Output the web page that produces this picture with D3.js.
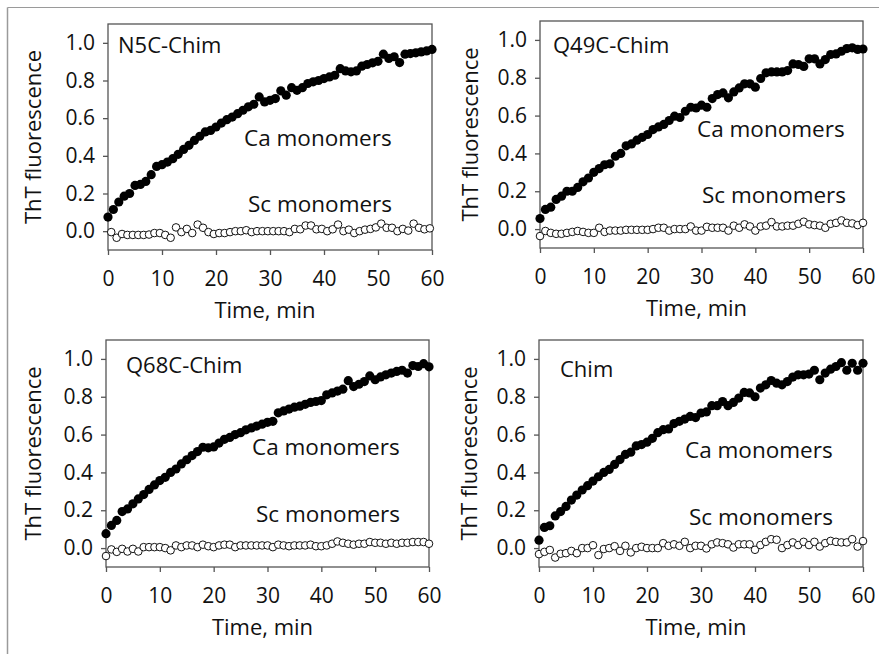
<!DOCTYPE html>
<html>
<head>
<meta charset="utf-8">
<script src="https://cdn.jsdelivr.net/npm/d3@7"></script>
<style>
  body { margin: 0; background: #fff; }
  text { font-family: "Open Sans", sans-serif; fill: #111; }
</style>
</head>
<body>
<svg width="879" height="654"></svg>
<script>
// time points (min)
var minutes = [0,1,2,3,4,5,6,7,8,9,10,11,12,13,14,15,16,17,18,19,20,
  21,22,23,24,25,26,27,28,29,30,31,32,33,34,35,36,37,38,39,40,
  41,42,43,44,45,46,47,48,49,50,51,52,53,54,55,56,57,58,59,60];
// N5C Sc readings were taken a bit later
var minutesHalf = [0.6,1.6,2.6,3.6,4.6,5.6,6.6,7.6,8.6,9.6,10.6,11.6,12.6,13.6,14.6,15.6,
  16.6,17.6,18.6,19.6,20.6,21.6,22.6,23.6,24.6,25.6,26.6,27.6,28.6,29.6,30.6,31.6,32.6,
  33.6,34.6,35.6,36.6,37.6,38.6,39.6,40.6,41.6,42.6,43.6,44.6,45.6,46.6,47.6,48.6,49.6,
  50.6,51.6,52.6,53.6,54.6,55.6,56.6,57.6,58.6,59.6];

var xTicks = [0, 10, 20, 30, 40, 50, 60];
var yTicks = [0, 0.2, 0.4, 0.6, 0.8, 1.0];

var n5cCa = [0.075,0.115,0.155,0.186,0.20,0.243,0.248,0.264,0.30,0.344,0.353,0.367,0.385,0.408,
  0.434,0.456,0.482,0.504,0.527,0.535,0.553,0.574,0.592,0.606,0.624,0.642,0.66,0.674,0.713,
  0.686,0.695,0.704,0.745,0.722,0.762,0.748,0.762,0.784,0.793,0.80,0.81,0.819,0.828,0.863,
  0.851,0.846,0.851,0.876,0.885,0.894,0.902,0.94,0.917,0.926,0.895,0.94,0.943,0.947,0.952,
  0.957,0.965];
var n5cSc = [-0.005,-0.035,-0.015,-0.02,-0.02,-0.02,-0.02,-0.018,-0.01,-0.01,-0.02,-0.035,
  0.02,-0.005,0.012,-0.01,0.035,0.018,-0.005,-0.015,-0.01,-0.01,-0.005,0.0,0.0,0.005,-0.005,
  0.0,0.0,0.0,0.0,0.0,0.0,-0.005,0.012,0.01,0.03,0.03,0.01,0.012,0.0,0.01,0.035,0.0,0.008,
  -0.01,0.0,0.008,0.012,0.02,0.04,0.018,0.018,0.0,0.012,0.003,0.04,0.018,0.01,0.015];

var q49cCa = [0.056,0.104,0.116,0.157,0.174,0.20,0.20,0.22,0.25,0.27,0.30,0.32,0.34,0.345,
  0.385,0.40,0.44,0.45,0.47,0.485,0.50,0.526,0.54,0.553,0.574,0.597,0.59,0.623,0.644,0.64,
  0.655,0.644,0.69,0.711,0.72,0.694,0.725,0.746,0.768,0.768,0.75,0.796,0.826,0.831,0.831,
  0.831,0.838,0.873,0.87,0.86,0.90,0.90,0.873,0.896,0.923,0.926,0.94,0.954,0.958,0.95,0.952];
var q49cSc = [-0.037,-0.01,-0.02,-0.025,-0.025,-0.02,-0.015,-0.01,-0.015,-0.02,-0.02,0.007,
  -0.015,-0.008,-0.008,-0.008,-0.004,-0.004,-0.004,-0.004,-0.004,0.0,0.007,0.007,-0.008,0.0,
  0.0,0.0,0.014,-0.008,-0.008,0.012,0.007,0.007,0.007,-0.008,0.018,0.007,0.025,0.014,-0.008,
  0.014,0.018,0.037,0.014,0.014,0.018,0.018,0.028,0.039,0.025,0.021,0.018,0.007,0.028,0.033,
  0.046,0.033,0.03,0.021,0.033];

var q68cCa = [0.076,0.12,0.146,0.193,0.207,0.234,0.26,0.283,0.31,0.334,0.357,0.374,0.40,0.418,
  0.445,0.467,0.489,0.51,0.533,0.53,0.535,0.555,0.575,0.585,0.60,0.61,0.625,0.635,0.645,
  0.655,0.665,0.67,0.715,0.725,0.735,0.745,0.75,0.76,0.77,0.775,0.78,0.81,0.82,0.83,0.84,
  0.885,0.854,0.866,0.88,0.91,0.89,0.905,0.916,0.925,0.934,0.94,0.925,0.965,0.96,0.975,0.958];
var q68cSc = [-0.042,-0.007,-0.02,-0.004,-0.018,-0.004,-0.018,0.005,0.005,0.005,0.005,0.0,
  -0.012,0.014,0.005,0.014,0.014,0.005,0.018,0.01,0.005,0.014,0.018,0.018,0.005,0.014,0.014,
  0.014,0.014,0.014,0.014,0.005,0.018,0.014,0.01,0.014,0.014,0.014,0.018,0.01,0.01,0.014,
  0.023,0.035,0.028,0.023,0.018,0.023,0.023,0.032,0.028,0.028,0.023,0.028,0.023,0.028,0.028,
  0.032,0.032,0.032,0.023];

var chimCa = [0.042,0.109,0.118,0.17,0.193,0.22,0.254,0.28,0.307,0.33,0.354,0.377,0.40,0.416,
  0.442,0.468,0.495,0.507,0.54,0.547,0.56,0.58,0.61,0.626,0.63,0.658,0.67,0.682,0.696,0.69,
  0.714,0.72,0.753,0.753,0.775,0.753,0.77,0.793,0.823,0.82,0.80,0.846,0.863,0.886,0.872,
  0.863,0.88,0.904,0.916,0.916,0.92,0.94,0.89,0.925,0.946,0.96,0.98,0.94,0.977,0.94,0.977];
var chimSc = [-0.032,-0.02,-0.01,-0.05,-0.03,-0.027,-0.015,-0.027,0.0,0.0,0.015,-0.037,-0.005,
  0.0,0.01,-0.015,0.012,-0.023,0.0,0.007,0.0,0.0,0.0,0.026,0.012,0.02,0.012,0.033,0.0,0.012,
  0.012,-0.002,0.02,0.03,0.026,0.02,0.003,0.02,0.02,0.02,-0.009,0.016,0.033,0.047,0.044,0.0,
  0.016,0.03,0.016,0.033,0.016,0.033,0.008,0.026,0.038,0.033,0.03,0.03,0.047,0.008,0.037];

var panels = [
  {name: "N5C-Chim", ca: n5cCa, sc: n5cSc, scT: minutesHalf,
   left: 108, right: 432, top: 24, bottom: 250,
   nameAt: [10, 29], caAt: [136, 122], scAt: [140, 188], ytx: -67},
  {name: "Q49C-Chim", ca: q49cCa, sc: q49cSc, scT: minutes,
   left: 540, right: 863, top: 21, bottom: 248,
   nameAt: [13, 32], caAt: [157, 116], scAt: [162, 182], ytx: -62},
  {name: "Q68C-Chim", ca: q68cCa, sc: q68cSc, scT: minutes,
   left: 106, right: 429, top: 340, bottom: 567,
   nameAt: [20, 33], caAt: [146, 115], scAt: [150, 182], ytx: -65},
  {name: "Chim", ca: chimCa, sc: chimSc, scT: minutes,
   left: 539, right: 863, top: 340, bottom: 567,
   nameAt: [21, 37], caAt: [146, 118], scAt: [150, 185], ytx: -62}
];

var svg = d3.select("svg");

// outer figure border (top and left edges)
svg.append("line").attr("x1", 7.5).attr("y1", 7.5).attr("x2", 879).attr("y2", 7.5)
  .attr("stroke", "#9a9a9a").attr("stroke-width", 1.2);
svg.append("line").attr("x1", 7.5).attr("y1", 7.5).attr("x2", 7.5).attr("y2", 654)
  .attr("stroke", "#9a9a9a").attr("stroke-width", 1.5);

panels.forEach(function(p) {
  var w = p.right - p.left, h = p.bottom - p.top;
  var x = d3.scaleLinear().domain([0, 60]).range([0, w]);
  var y = d3.scaleLinear().domain([-0.1, 1.1]).range([h, 0]);

  var g = svg.append("g").attr("transform", "translate(" + p.left + "," + p.top + ")");

  g.append("rect").attr("width", w).attr("height", h)
    .attr("fill", "none").attr("stroke", "#555").attr("stroke-width", 1.3);

  var xa = g.append("g").attr("transform", "translate(0," + h + ")")
    .call(d3.axisBottom(x).tickValues(xTicks).tickSize(5).tickPadding(16));
  var ya = g.append("g")
    .call(d3.axisLeft(y).tickValues(yTicks).tickFormat(d3.format(".1f")).tickSize(5).tickPadding(8));
  [xa, ya].forEach(function(a) {
    a.select(".domain").remove();
    a.selectAll("line").attr("stroke", "#555").attr("stroke-width", 1.3);
    a.selectAll("text").style("font-size", "21px").style("font-family", "'Open Sans', sans-serif")
      .attr("fill", "#111");
  });

  g.append("text").attr("x", w / 2 - 5).attr("y", h + 68)
    .attr("text-anchor", "middle").style("font-size", "22px").text("Time, min");
  g.append("text").attr("transform", "translate(" + p.ytx + "," + h / 2 + ") rotate(-90)")
    .attr("text-anchor", "middle").style("font-size", "22px").text("ThT fluorescence");

  g.append("text").attr("x", p.nameAt[0]).attr("y", p.nameAt[1]).style("font-size", "22px").text(p.name);
  g.append("text").attr("x", p.caAt[0]).attr("y", p.caAt[1]).style("font-size", "22.5px").text("Ca monomers");
  g.append("text").attr("x", p.scAt[0]).attr("y", p.scAt[1]).style("font-size", "22.5px").text("Sc monomers");

  g.selectAll(".sc").data(p.sc).enter().append("circle")
    .attr("class", "sc")
    .attr("cx", function(d, i) { return x(p.scT[i]); })
    .attr("cy", function(d) { return y(d); })
    .attr("r", 3.8)
    .attr("fill", "#fff").attr("stroke", "#111").attr("stroke-width", 1);

  g.selectAll(".ca").data(p.ca).enter().append("circle")
    .attr("class", "ca")
    .attr("cx", function(d, i) { return x(minutes[i]); })
    .attr("cy", function(d) { return y(d); })
    .attr("r", 4.6)
    .attr("fill", "#000");
});
</script>
</body>
</html>
